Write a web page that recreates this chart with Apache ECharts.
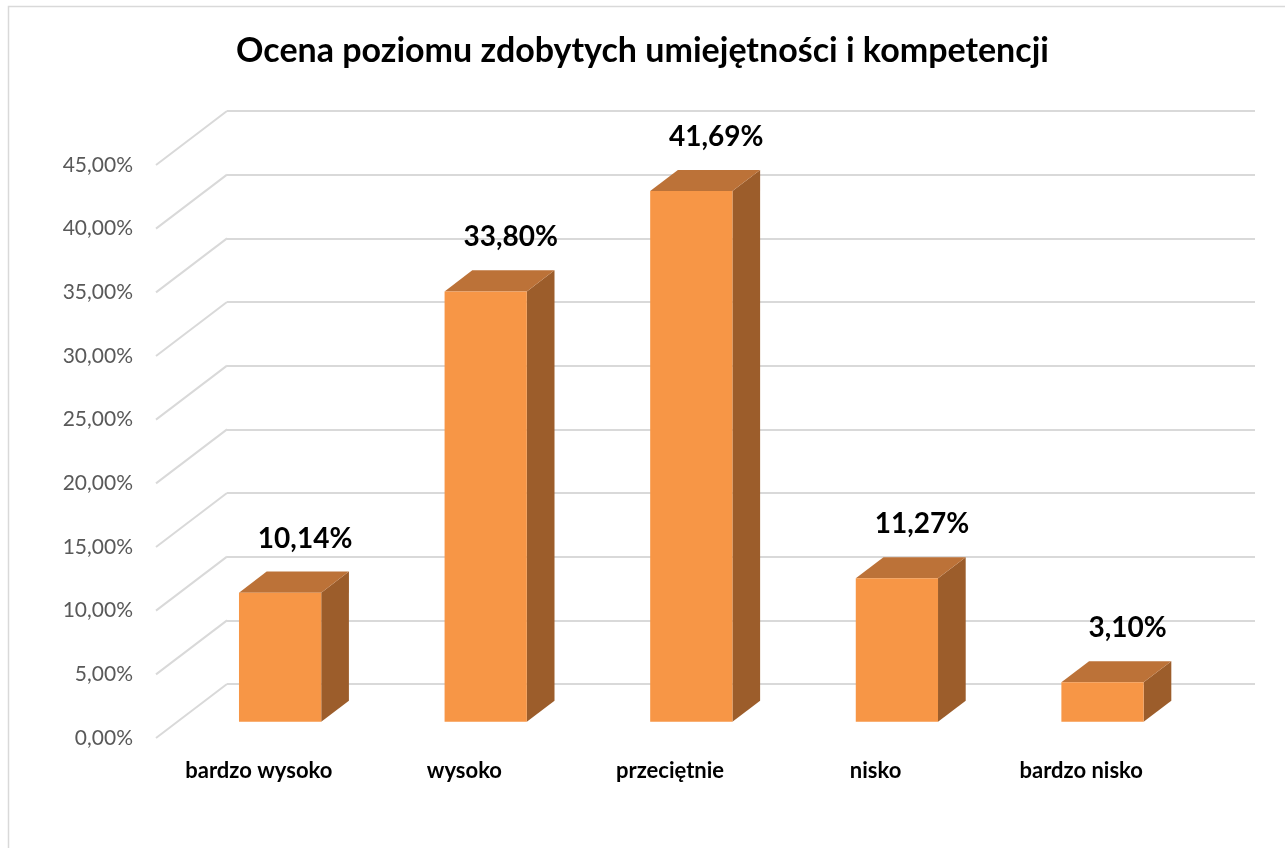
<!DOCTYPE html>
<html>
<head>
<meta charset="utf-8" />
<title>Ocena poziomu zdobytych umiejętności i kompetencji</title>
<script src="https://cdn.jsdelivr.net/npm/echarts@6/dist/echarts.min.js"></script>
<style>
    html, body { margin: 0; padding: 0; background: #fff; }
    #chart { width: 1285px; height: 848px; }
</style>
</head>
<body>
<div id="chart"></div>
<script type="text/javascript">
// dane
var categories = ['bardzo wysoko', 'wysoko', 'przeciętnie', 'nisko', 'bardzo nisko'];
var values = [10.14, 33.80, 41.69, 11.27, 3.10];
var yTicks = [0, 5, 10, 15, 20, 25, 30, 35, 40, 45];

// glebokosc "3D" (przod -> tyl sciany)
var DEPTH_X = 71, DEPTH_Y = 54;
var BAR_FRONT = 0.30, BAR_BACK = 0.69, BAR_W = 0.4;

function pct(v) {
    return v.toFixed(2).replace('.', ',') + '%';
}

var chart = echarts.init(document.getElementById('chart'));

var option = {
    animation: false,
    textStyle: { fontFamily: 'Lato' },
    title: {
        text: 'Ocena poziomu zdobytych umiejętności i kompetencji',
        left: 'center',
        top: 29,
        textStyle: { fontFamily: 'Lato', fontSize: 34, fontWeight: 'bold', color: '#000' }
    },
    graphic: [{
        type: 'rect',
        shape: { x: 8.5, y: 6.5, width: 1400, height: 1000 },
        style: { fill: 'none', stroke: '#d9d9d9', lineWidth: 1.5 },
        silent: true
    }],
    grid: [
        // tylna sciana
        { left: 227, top: 111, width: 1028, height: 573 },
        // przednia plaszczyzna
        { left: 156, top: 165, width: 1028, height: 573 }
    ],
    xAxis: [
        { type: 'category', gridIndex: 0, data: categories, show: false },
        {
            type: 'category', gridIndex: 1, data: categories,
            axisLine: { show: false }, axisTick: { show: false },
            axisLabel: { margin: 22, fontSize: 22, fontWeight: 'bold', color: '#000', fontFamily: 'Lato' }
        }
    ],
    yAxis: [
        {
            type: 'value', gridIndex: 0, min: 0, max: 45, interval: 5,
            axisLine: { show: false }, axisTick: { show: false }, axisLabel: { show: false },
            splitLine: { lineStyle: { color: '#d9d9d9', width: 2 } }
        },
        {
            type: 'value', gridIndex: 1, min: 0, max: 45, interval: 5,
            axisLine: { show: false }, axisTick: { show: false },
            splitLine: { show: false },
            axisLabel: { margin: 23, fontSize: 21, color: '#595959', fontFamily: 'Lato', formatter: pct }
        }
    ],
    series: [
        {
            // ukosne linie siatki po lewej
            type: 'custom',
            xAxisIndex: 1, yAxisIndex: 1,
            data: yTicks.map(function (t) { return [0, t]; }),
            silent: true,
            renderItem: function (params, api) {
                var p = api.coord([0, api.value(1)]);
                var left = p[0] - api.size([1, 0])[0] / 2;
                return {
                    type: 'line',
                    shape: { x1: left, y1: p[1], x2: left + DEPTH_X, y2: p[1] - DEPTH_Y },
                    style: { stroke: '#d9d9d9', lineWidth: 2 }
                };
            }
        },
        {
            type: 'custom',
            xAxisIndex: 1, yAxisIndex: 1,
            data: values.map(function (v, i) { return [i, v]; }),
            renderItem: function (params, api) {
                var i = api.value(0), v = api.value(1);
                var top = api.coord([i, v]);
                var bot = api.coord([i, 0]);
                var bw = api.size([1, 0])[0] * BAR_W;
                var fx = DEPTH_X * BAR_FRONT, fy = DEPTH_Y * BAR_FRONT;
                var dx = DEPTH_X * (BAR_BACK - BAR_FRONT), dy = DEPTH_Y * (BAR_BACK - BAR_FRONT);
                var x0 = top[0] - bw / 2 + fx, x1 = x0 + bw;
                var yt = top[1] - fy, yb = bot[1] - fy;
                return {
                    type: 'group',
                    children: [
                        {
                            type: 'polygon',
                            shape: { points: [[x1, yt], [x1 + dx, yt - dy], [x1 + dx, yb - dy], [x1, yb]] },
                            style: { fill: '#9c5d2b' }
                        },
                        {
                            type: 'polygon',
                            shape: { points: [[x0, yt], [x0 + dx, yt - dy], [x1 + dx, yt - dy], [x1, yt]] },
                            style: { fill: '#bc7238' }
                        },
                        {
                            type: 'rect',
                            shape: { x: x0, y: yt, width: bw, height: yb - yt },
                            style: { fill: '#f79646' }
                        },
                        {
                            type: 'text',
                            x: (x0 + x1) / 2 + 25, y: yt - 54,
                            style: {
                                text: pct(v), fontSize: 28, fontWeight: 'bold', fill: '#000',
                                fontFamily: 'Lato', align: 'center', verticalAlign: 'middle'
                            }
                        }
                    ]
                };
            }
        }
    ]
};
chart.setOption(option);
</script>
</body>
</html>
